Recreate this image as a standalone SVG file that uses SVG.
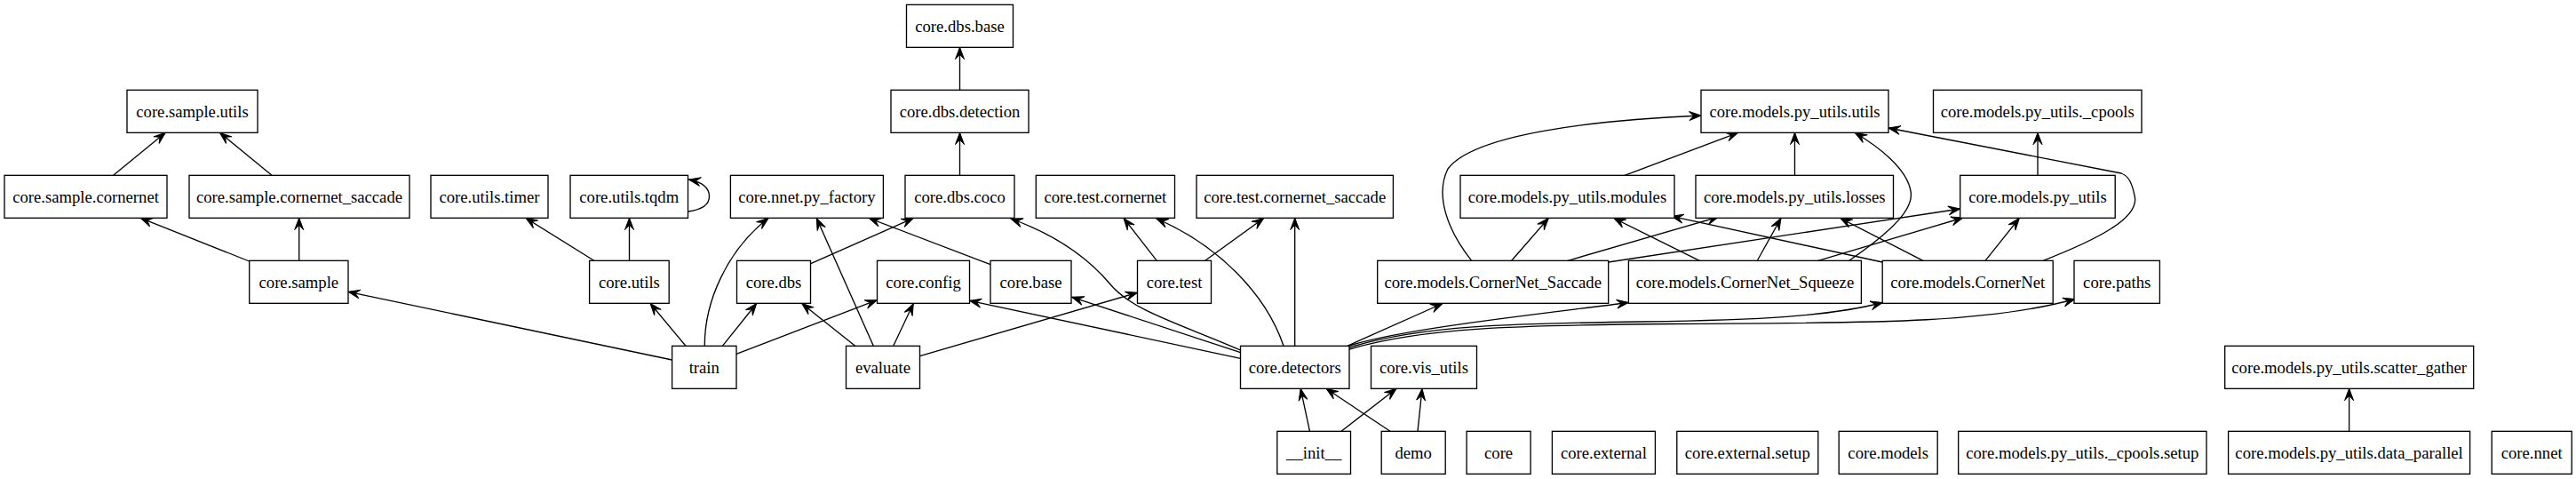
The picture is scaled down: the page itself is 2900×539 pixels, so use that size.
<svg xmlns="http://www.w3.org/2000/svg" width="2900" height="539" viewBox="0 0 2900 539">
<style>
.n rect{fill:#fff;stroke:#000;stroke-width:1.33}
.n text{font-family:"Liberation Serif","Times New Roman",serif;font-size:18.67px;text-anchor:middle;fill:#000}
.e path{fill:none;stroke:#000;stroke-width:1.33;marker-end:url(#a)}
</style>
<defs>
<marker id="a" markerUnits="userSpaceOnUse" markerWidth="20" markerHeight="20" viewBox="-15 -10 20 20" refX="0" refY="0" orient="auto" overflow="visible"><path d="M0,0 L-13.3,-5 L-8,0 L-13.3,5 Z" fill="#000" stroke="#000" stroke-width="1"/></marker>
</defs>
<rect width="2900" height="539" fill="#fff"/>
<g class="e" id="edges">
<path d="M127.6,197.3 L186.2,149.3"/>
<path d="M306,197.3 L247.4,149.3"/>
<path d="M280.7,294 L158.2,245.3"/>
<path d="M336.7,293.3 L336.7,245.3"/>
<path d="M668.8,293.3 L591.8,245.3"/>
<path d="M708.5,293.3 L708.5,245.3"/>
<path d="M774.5,238 C790,236 798.5,230 798.5,221 C798.5,211 791,205 775.5,202"/>
<path d="M756.6,405 L392,328.3"/>
<path d="M772,389.3 L732,341.3"/>
<path d="M793.3,389.3 C793,340 818,282 865,245.5"/>
<path d="M813.3,389.3 L851.7,341.5"/>
<path d="M829,398.3 L987.3,337.7"/>
<path d="M912.7,296.7 L1028.3,245.5"/>
<path d="M1080.5,197.3 L1080.5,149.3"/>
<path d="M1080.5,101.3 L1080.5,53.3"/>
<path d="M962.7,389.3 L902.7,341.5"/>
<path d="M983.3,389.3 L919.3,245.5"/>
<path d="M1005.7,389.3 L1028.3,341.5"/>
<path d="M1035.5,400.7 L1280.5,329.3"/>
<path d="M1115,297.7 L978.3,245.5"/>
<path d="M1302.3,293.3 L1265,245.5"/>
<path d="M1356.7,293.3 L1422.7,245.5"/>
<path d="M1396.5,403.3 L1091.5,338.3"/>
<path d="M1396.5,396.7 L1206.7,334.3"/>
<path d="M1396.5,394 C1330,365 1275,350 1250,320 C1225,290 1190,265 1138,246"/>
<path d="M1445,389.3 C1425,330 1370,275 1301.7,246"/>
<path d="M1457.7,389.3 L1457.7,245.3"/>
<path d="M1516.7,389.3 L1624,341.5"/>
<path d="M1519,389 C1580,370 1720,355 1833.4,340.5"/>
<path d="M1519,391 C1600,366 1700,364 1850,362 C1980,360 2060,356 2119.2,340.5"/>
<path d="M1519,393 C1600,369 1700,366 1880,364.5 C2080,363 2230,366 2336,336.5"/>
<path d="M1474.5,485.3 L1464.2,437.3"/>
<path d="M1510,485.3 L1572,437.3"/>
<path d="M1565,485.3 L1493,437.3"/>
<path d="M1596,485.3 L1601,437.3"/>
<path d="M1656.7,293.3 C1630,260 1615,220 1630,190 C1660,150 1800,135 1915,130"/>
<path d="M1701.7,293.3 L1743.3,245.5"/>
<path d="M1765,293.3 L1935,244"/>
<path d="M1810.6,295 L2206.7,235"/>
<path d="M1913.3,293.3 L1816.7,245.5"/>
<path d="M1978.3,293.3 L2005,245.5"/>
<path d="M2081.7,293.3 C2130,260 2155,235 2151,215 C2147,190 2115,165 2088.3,149.5"/>
<path d="M2046.7,293.3 L2210,245"/>
<path d="M2119.2,295 L1881.7,243.3"/>
<path d="M2165,293.3 L2071.7,245.5"/>
<path d="M2235,293.3 L2273.3,245.5"/>
<path d="M2300,293.3 C2360,270 2410,245 2403,220 C2400,205 2396,198 2388,195 L2126,144"/>
<path d="M1829,197.3 L1956.7,149.3"/>
<path d="M2020.5,197.3 L2020.5,149.3"/>
<path d="M2294,197.3 L2294,149.3"/>
<path d="M2644.6,485.3 L2644.6,437.3"/>
</g>
<g class="n" id="core.dbs.base"><rect x="1020.5" y="5.33" width="120" height="48"/><text x="1080.5" y="35.8">core.dbs.base</text></g>
<g class="n" id="core.sample.utils"><rect x="143" y="101.33" width="147" height="48"/><text x="216.5" y="131.8">core.sample.utils</text></g>
<g class="n" id="core.dbs.detection"><rect x="1003" y="101.33" width="155" height="48"/><text x="1080.5" y="131.8">core.dbs.detection</text></g>
<g class="n" id="core.models.py_utils.utils"><rect x="1915" y="101.33" width="211" height="48"/><text x="2020.5" y="131.8">core.models.py_utils.utils</text></g>
<g class="n" id="core.models.py_utils._cpools"><rect x="2176.5" y="101.33" width="234.5" height="48"/><text x="2293.75" y="131.8">core.models.py_utils._cpools</text></g>
<g class="n" id="core.sample.cornernet"><rect x="5" y="197.33" width="183" height="48"/><text x="96.5" y="227.8">core.sample.cornernet</text></g>
<g class="n" id="core.sample.cornernet_saccade"><rect x="213" y="197.33" width="248" height="48"/><text x="337" y="227.8">core.sample.cornernet_saccade</text></g>
<g class="n" id="core.utils.timer"><rect x="485" y="197.33" width="132" height="48"/><text x="551" y="227.8">core.utils.timer</text></g>
<g class="n" id="core.utils.tqdm"><rect x="642" y="197.33" width="132.5" height="48"/><text x="708.25" y="227.8">core.utils.tqdm</text></g>
<g class="n" id="core.nnet.py_factory"><rect x="822.4" y="197.33" width="172" height="48"/><text x="908.4" y="227.8">core.nnet.py_factory</text></g>
<g class="n" id="core.dbs.coco"><rect x="1019" y="197.33" width="123" height="48"/><text x="1080.5" y="227.8">core.dbs.coco</text></g>
<g class="n" id="core.test.cornernet"><rect x="1166.3" y="197.33" width="156.2" height="48"/><text x="1244.4" y="227.8">core.test.cornernet</text></g>
<g class="n" id="core.test.cornernet_saccade"><rect x="1347" y="197.33" width="221.4" height="48"/><text x="1457.7" y="227.8">core.test.cornernet_saccade</text></g>
<g class="n" id="core.models.py_utils.modules"><rect x="1644" y="197.33" width="241" height="48"/><text x="1764.5" y="227.8">core.models.py_utils.modules</text></g>
<g class="n" id="core.models.py_utils.losses"><rect x="1909" y="197.33" width="222.5" height="48"/><text x="2020.25" y="227.8">core.models.py_utils.losses</text></g>
<g class="n" id="core.models.py_utils"><rect x="2206.7" y="197.33" width="174.5" height="48"/><text x="2293.95" y="227.8">core.models.py_utils</text></g>
<g class="n" id="core.sample"><rect x="280.7" y="293.33" width="111.3" height="48"/><text x="336.35" y="323.8">core.sample</text></g>
<g class="n" id="core.utils"><rect x="663.6" y="293.33" width="89.6" height="48"/><text x="708.4" y="323.8">core.utils</text></g>
<g class="n" id="core.dbs"><rect x="829.5" y="293.33" width="83" height="48"/><text x="871" y="323.8">core.dbs</text></g>
<g class="n" id="core.config"><rect x="987.5" y="293.33" width="104" height="48"/><text x="1039.5" y="323.8">core.config</text></g>
<g class="n" id="core.base"><rect x="1115" y="293.33" width="91" height="48"/><text x="1160.5" y="323.8">core.base</text></g>
<g class="n" id="core.test"><rect x="1280.5" y="293.33" width="83" height="48"/><text x="1322" y="323.8">core.test</text></g>
<g class="n" id="core.models.CornerNet_Saccade"><rect x="1550.7" y="293.33" width="260" height="48"/><text x="1680.7" y="323.8">core.models.CornerNet_Saccade</text></g>
<g class="n" id="core.models.CornerNet_Squeeze"><rect x="1833.4" y="293.33" width="262" height="48"/><text x="1964.4" y="323.8">core.models.CornerNet_Squeeze</text></g>
<g class="n" id="core.models.CornerNet"><rect x="2119.2" y="293.33" width="192" height="48"/><text x="2215.2" y="323.8">core.models.CornerNet</text></g>
<g class="n" id="core.paths"><rect x="2335" y="293.33" width="96.4" height="48"/><text x="2383.2" y="323.8">core.paths</text></g>
<g class="n" id="train"><rect x="756.6" y="389.33" width="72.4" height="48"/><text x="792.8" y="419.8">train</text></g>
<g class="n" id="evaluate"><rect x="952.5" y="389.33" width="83" height="48"/><text x="994" y="419.8">evaluate</text></g>
<g class="n" id="core.detectors"><rect x="1396.5" y="389.33" width="122.5" height="48"/><text x="1457.75" y="419.8">core.detectors</text></g>
<g class="n" id="core.vis_utils"><rect x="1543.5" y="389.33" width="119" height="48"/><text x="1603" y="419.8">core.vis_utils</text></g>
<g class="n" id="core.models.py_utils.scatter_gather"><rect x="2504.7" y="389.33" width="280" height="48"/><text x="2644.7" y="419.8">core.models.py_utils.scatter_gather</text></g>
<g class="n" id="__init__"><rect x="1437.8" y="485.33" width="82.7" height="48"/><text x="1479.15" y="515.8">__init__</text></g>
<g class="n" id="demo"><rect x="1555.2" y="485.33" width="72" height="48"/><text x="1591.2" y="515.8">demo</text></g>
<g class="n" id="core"><rect x="1651.1" y="485.33" width="72" height="48"/><text x="1687.1" y="515.8">core</text></g>
<g class="n" id="core.external"><rect x="1747.4" y="485.33" width="116" height="48"/><text x="1805.4" y="515.8">core.external</text></g>
<g class="n" id="core.external.setup"><rect x="1887.8" y="485.33" width="159" height="48"/><text x="1967.3" y="515.8">core.external.setup</text></g>
<g class="n" id="core.models"><rect x="2070.2" y="485.33" width="111" height="48"/><text x="2125.7" y="515.8">core.models</text></g>
<g class="n" id="core.models.py_utils._cpools.setup"><rect x="2204.7" y="485.33" width="279.3" height="48"/><text x="2344.35" y="515.8">core.models.py_utils._cpools.setup</text></g>
<g class="n" id="core.models.py_utils.data_parallel"><rect x="2508.6" y="485.33" width="272" height="48"/><text x="2644.6" y="515.8">core.models.py_utils.data_parallel</text></g>
<g class="n" id="core.nnet"><rect x="2805.2" y="485.33" width="90" height="48"/><text x="2850.2" y="515.8">core.nnet</text></g>
</svg>
